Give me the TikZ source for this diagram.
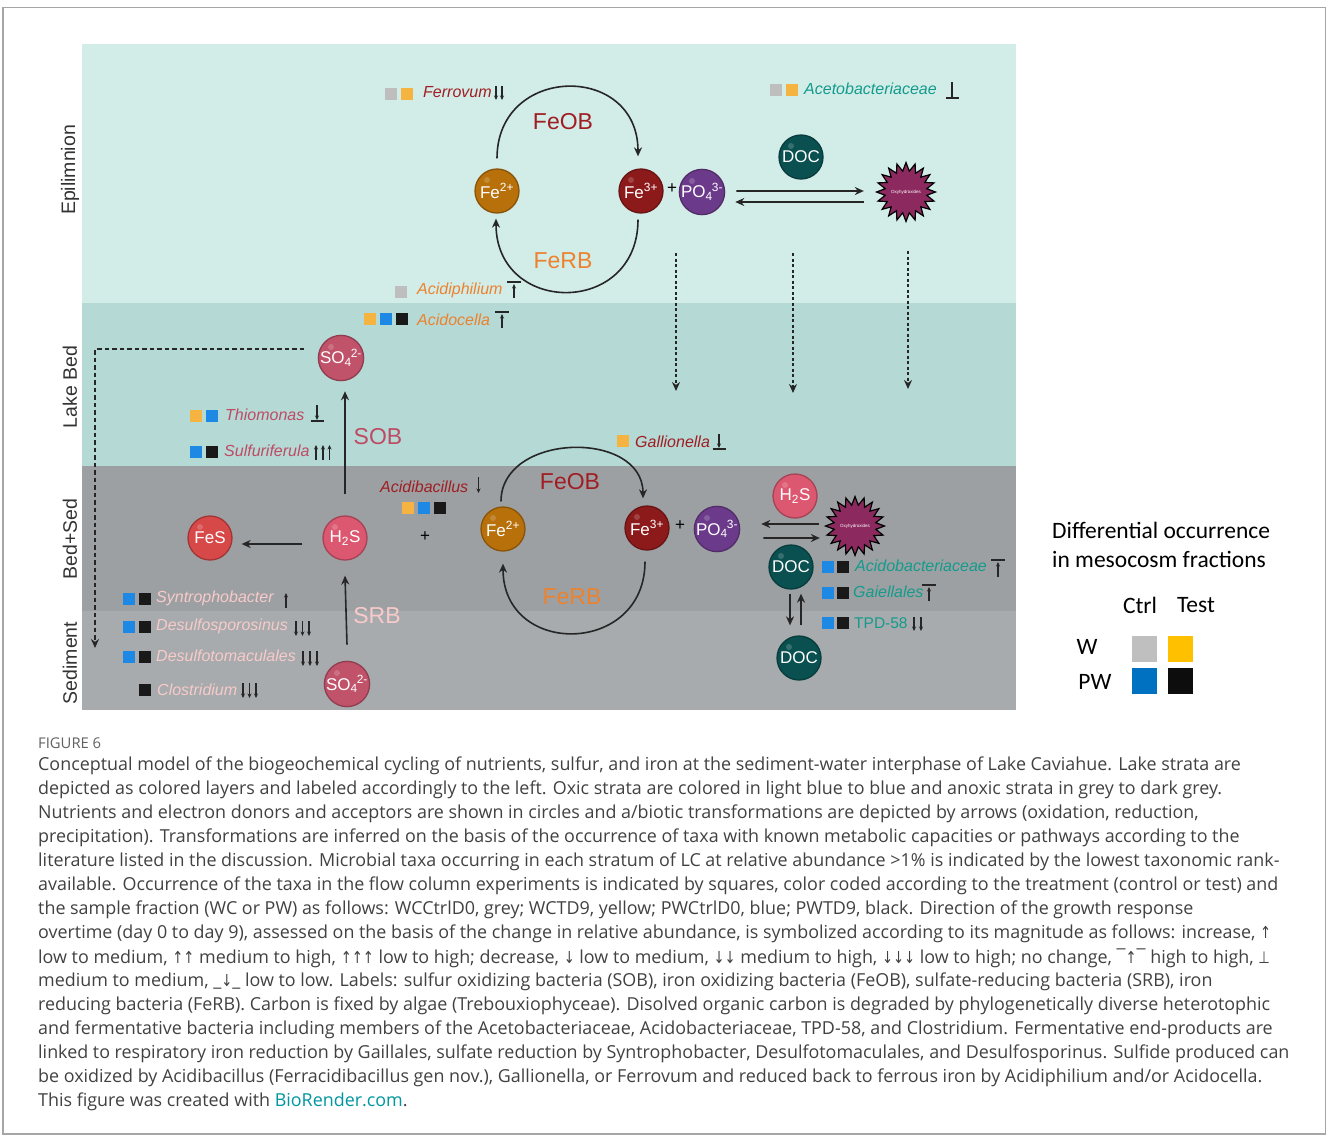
\documentclass[tikz,border=0pt]{standalone}
\usepackage{fontspec}
\usepackage{graphicx}
\setmainfont{Liberation Sans}
\newfontfamily\capfont{Open Sans}
\newfontfamily\legfont{Carlito}
\newfontfamily\symfont{DejaVu Sans}
\usetikzlibrary{shapes.geometric,arrows.meta,calc}
\newcommand\myfs[1]{\fontsize{#1}{#1}\selectfont}
\newcommand\sy[1]{\scalebox{0.8}[1]{\symfont\fontsize{16.5}{16.5}\selectfont #1}}
\definecolor{cEpi}{RGB}{210,236,232}
\definecolor{cBed}{RGB}{181,217,213}
\definecolor{cBS}{RGB}{156,160,163}
\definecolor{cSed}{RGB}{167,171,173}
\definecolor{cFeOB}{RGB}{160,30,35}
\definecolor{cFeRB}{RGB}{236,130,45}
\definecolor{cTeal}{RGB}{20,155,140}
\definecolor{cSOB}{RGB}{190,75,100}
\definecolor{cSRB}{RGB}{248,202,202}
\definecolor{qGrey}{RGB}{190,190,190}
\definecolor{qOr}{RGB}{245,180,65}
\definecolor{qBl}{RGB}{30,136,229}
\definecolor{qBk}{RGB}{25,25,25}
\definecolor{lGrey}{RGB}{191,191,191}
\definecolor{lYel}{RGB}{255,192,0}
\definecolor{lBl}{RGB}{0,112,192}
\definecolor{lBk}{RGB}{13,13,13}
\definecolor{kFeII}{RGB}{183,112,10}
\definecolor{kFeIII}{RGB}{140,26,26}
\definecolor{kPO}{RGB}{108,58,138}
\definecolor{kDOC}{RGB}{10,80,80}
\definecolor{kSO}{RGB}{192,82,106}
\definecolor{kHS}{RGB}{220,88,112}
\definecolor{kFeS}{RGB}{215,72,72}
\definecolor{kOx}{RGB}{140,42,95}
\definecolor{capc}{RGB}{65,65,65}
\definecolor{linkc}{RGB}{0,150,160}
\begin{document}
\begin{tikzpicture}[x=1pt,y=-1pt,
  ball/.style={circle,minimum size=44pt,inner sep=0pt,text=white,font=\myfs{17},line width=1.3pt,
    path picture={\fill[white,opacity=0.18] ($(path picture bounding box.center)+(-10,-11)$) circle (3pt);}},
  sq/.style={rectangle,minimum size=12pt,inner sep=0pt},
  lsq/.style={rectangle,minimum width=25pt,minimum height=26pt,inner sep=0pt},
  spec/.style={anchor=west,inner sep=0pt,font=\itshape\myfs{16}},
  lay/.style={rotate=90,inner sep=0pt,font=\myfs{19.5},text=black!80},
  big/.style={inner sep=0pt,font=\myfs{23}},
  arr/.style={line width=1.6pt,draw=black!85,-{Stealth[length=9pt,width=8pt]}},
  dotarr/.style={line width=1.6pt,draw=black!85,dash pattern=on 3pt off 2.5pt,-{Stealth[length=9pt,width=8pt]}},
  sym/.style={line width=1.1pt,draw=black!85,-{Stealth[length=4.5pt,width=4pt]}},
  bar/.style={line width=1.1pt,draw=black!85},
  oxy/.style={star,star points=20,star point ratio=1.4,minimum size=56pt,inner sep=0pt,fill=kOx,draw=black,line width=1.2pt,text=white,font=\myfs{4.5}},
  capl/.style={anchor=west,inner sep=0pt,font=\capfont\myfs{17.9},text=capc},
  leg/.style={inner sep=0pt,font=\legfont\myfs{23.5},text=black}
]
\useasboundingbox (0,0) rectangle (1327,1135);
% frame
\draw[draw=black!35,line width=1.5pt] (3,7.5) rectangle (1325.5,1134);
% layers
\fill[cEpi] (82,44) rectangle (1016,303);
\fill[cBed] (82,303) rectangle (1016,466);
\fill[cBS] (82,466) rectangle (1016,611);
\fill[cSed] (82,611) rectangle (1016,710);
\node[lay] (lEpi) at (70,170) {Epilimnion};
\node[lay] (lBed) at (70,387) {Lake Bed};
\node[lay] (lBS) at (70,539) {Bed+Sed};
\node[lay] (lSed) at (70,663) {Sediment};

% ===== Epilimnion =====
\node[ball,fill=kFeII,draw=kFeII!75!black] (fe2a) at (497,191) {Fe\textsuperscript{2+}};
\node[ball,fill=kFeIII,draw=kFeIII!75!black] (fe3a) at (641,191) {Fe\textsuperscript{3+}};
\node[inner sep=0pt,font=\myfs{17}] (plA) at (672,189) {+};
\node[ball,fill=kPO,draw=kPO!75!black] (po4a) at (702,192) {PO\textsubscript{4}\kern-0.05em\textsuperscript{3-}};
\node[ball,fill=kDOC,draw=kDOC!75!black] (doc1) at (801,157) {DOC};
\node[oxy] (ox1) at (906,192) {Oxyhydroxides};
\draw[arr] ($(fe2a.north)+(0,-10)$) .. controls +(0,-94) and +(0,-94) .. ($(fe3a.north)+(-3,-12)$);
\draw[arr] ($(fe3a.south)+(-3,6)$) .. controls +(0,97) and +(0,97) .. ($(fe2a.south)+(-1,5)$);
\node[big,text=cFeOB] (feob1) at (563,122) {FeOB};
\node[big,text=cFeRB] (ferb1) at (563,261) {FeRB};
\draw[arr] ([xshift=11pt,yshift=1pt]po4a.east) -- ([xshift=-11pt,yshift=1pt]ox1.west);
\draw[arr] ([xshift=-11pt,yshift=-10pt]ox1.west) -- ([xshift=10pt,yshift=-10pt]po4a.east);
% dotted down arrows
\coordinate (d1s) at (676,253); \coordinate (d1e) at (676,391);
\coordinate (d2s) at (793,253); \coordinate (d2e) at (793,393);
\coordinate (d3s) at (908,251); \coordinate (d3e) at (908,389);
\draw[dotarr] (d1s) -- (d1e);
\draw[dotarr] (d2s) -- (d2e);
\draw[dotarr] (d3s) -- (d3e);
% Ferrovum
\node[sq,fill=qGrey] (fv1) at (391,94) {};
\node[sq,fill=qOr] (fv2) at (407,94) {};
\node[spec,text=cFeOB] (fvt) at (423,92) {Ferrovum};
\draw[sym] (496,86) -- (496,100); \draw[sym] (502,86) -- (502,100);
% Acetobacteriaceae
\node[sq,fill=qGrey] (ac1) at (776,90) {};
\node[sq,fill=qOr] (ac2) at (792,90) {};
\node[spec,text=cTeal] (act) at (804,89) {Acetobacteriaceae};
\draw[bar] (952,82) -- (952,98); \draw[bar] (945.5,98) -- (959,98);
% Acidiphilium
\node[sq,fill=qGrey] (ap1) at (401,292) {};
\node[spec,text=cFeRB] (apt) at (417,290) {Acidiphilium};
\draw[bar] (507,282) -- (521,282); \draw[sym] (514,298) -- (514,284);

% ===== Lake bed =====
\node[sq,fill=qOr] (ao1) at (370,319) {};
\node[sq,fill=qBl] (ao2) at (386,319) {};
\node[sq,fill=qBk] (ao3) at (402,319) {};
\node[spec,text=cFeRB] (aot) at (417,320) {Acidocella};
\draw[bar] (495,312) -- (509,312); \draw[sym] (502,328) -- (502,314);
\node[ball,fill=kSO,draw=kSO!75!black] (so4a) at (341,358) {SO\textsubscript{4}\kern-0.05em\textsuperscript{2-}};
\coordinate (dl1) at (304,349); \coordinate (dl2) at (95,349); \coordinate (dl3) at (95,648);
\draw[line width=1.6pt,draw=black!85,dash pattern=on 4.5pt off 3pt,-{Stealth[length=9pt,width=8pt]}] (dl1) -- (dl2) -- (dl3);
\node[sq,fill=qOr] (tm1) at (196,416) {};
\node[sq,fill=qBl] (tm2) at (212,416) {};
\node[spec,text=cSOB] (tmt) at (225,415) {Thiomonas};
\draw[sym] (317,405) -- (317,420); \draw[bar] (310.5,421) -- (324,421);
\node[sq,fill=qBl] (sf1) at (196,452) {};
\node[sq,fill=qBk] (sf2) at (212,452) {};
\node[spec,text=cSOB] (sft) at (224,451) {Sulfuriferula};
\draw[sym] (316,460) -- (316,445); \draw[sym] (323,460) -- (323,445); \draw[sym] (329.5,460) -- (329.5,445);
\node[big,text=cSOB] (sob) at (378,437) {SOB};
\node[sq,fill=qOr] (gl1) at (623,441) {};
\node[spec,text=cFeOB] (glt) at (635,442) {Gallionella};
\draw[sym] (719,434) -- (719,448); \draw[bar] (712.5,449) -- (726,449);

% ===== Bed+Sed =====
\node[spec,text=cFeOB] (abt) at (380,487) {Acidibacillus};
\draw[sym] (478.5,477) -- (478.5,493);
\node[sq,fill=qOr] (ab1) at (408,508) {};
\node[sq,fill=qBl] (ab2) at (424,508) {};
\node[sq,fill=qBk] (ab3) at (440,508) {};
\node[inner sep=0pt,font=\myfs{17}] (plB) at (425,537) {+};
\node[ball,fill=kFeII,draw=kFeII!75!black] (fe2b) at (503,529) {Fe\textsuperscript{2+}};
\node[ball,fill=kFeIII,draw=kFeIII!75!black] (fe3b) at (647,528) {Fe\textsuperscript{3+}};
\node[inner sep=0pt,font=\myfs{17}] (plC) at (680,526) {+};
\node[ball,fill=kPO,draw=kPO!75!black] (po4b) at (717,529) {PO\textsubscript{4}\kern-0.05em\textsuperscript{3-}};
\draw[arr] ($(fe2b.north)+(-2,-5)$) .. controls +(0,-69) and +(0,-69) .. ($(fe3b.north)+(-4,-7)$);
\draw[arr] ($(fe3b.south)+(-2,11)$) .. controls +(0,94) and +(0,94) .. ($(fe2b.south)+(0,12)$);
\node[big,text=cFeOB] (feob2) at (570,482) {FeOB};
\node[big,text=cFeRB] (ferb2) at (572,597) {FeRB};
\node[ball,fill=kHS,draw=kHS!75!black] (h2sb) at (795,496) {H\textsubscript{2}S};
\node[oxy,minimum size=52pt] (ox2) at (855,526) {Oxyhydroxides};
\draw[arr] ([xshift=-5pt,yshift=2pt]ox2.west) -- ([xshift=21pt,yshift=5pt]po4b.east);
\draw[arr] ([xshift=23pt,yshift=-9pt]po4b.east) -- ([xshift=-4pt,yshift=-12pt]ox2.west);
\node[ball,fill=kDOC,draw=kDOC!75!black] (doc2) at (791,567) {DOC};
\node[ball,fill=kDOC,draw=kDOC!75!black] (doc3) at (799,658) {DOC};
\draw[arr] ([xshift=-1pt,yshift=-4pt]doc2.south) -- ([xshift=-9pt,yshift=10pt]doc3.north);
\draw[arr] ([xshift=2pt,yshift=10pt]doc3.north) -- ([xshift=10pt,yshift=-4pt]doc2.south);
\node[sq,fill=qBl] (adb1) at (828,567) {};
\node[sq,fill=qBk] (adb2) at (843,567) {};
\node[spec,text=cTeal] (adbt) at (855,566) {Acidobacteriaceae};
\draw[bar] (991,560) -- (1005,560); \draw[sym] (998,577) -- (998,562);
\node[sq,fill=qBl] (ga1) at (828,593) {};
\node[sq,fill=qBk] (ga2) at (843,593) {};
\node[spec,text=cTeal] (gat) at (853,592) {Gaiellales};
\draw[bar] (922,585) -- (936,585); \draw[sym] (929,601) -- (929,587);
\node[sq,fill=qBl] (tp1) at (828,623) {};
\node[sq,fill=qBk] (tp2) at (843,623) {};
\node[spec,font=\myfs{15.5},text=cTeal] (tpt) at (854,623) {TPD-58};
\draw[sym] (914,617) -- (914,631); \draw[sym] (921,617) -- (921,631);

\node[ball,fill=kHS,draw=kHS!75!black] (h2sa) at (345,538) {H\textsubscript{2}S};
\node[ball,fill=kFeS,draw=kFeS!75!black] (fes) at (210,538) {FeS};
\draw[arr] ([xshift=-20pt,yshift=-6pt]h2sa.west) -- ([xshift=9pt,yshift=-6pt]fes.east);
\draw[arr] ($(h2sa.north)+(0,-21)$) -- ($(so4a.south)+(4,10)$);
\node[ball,fill=kSO,draw=kSO!75!black] (so4b) at (347,684) {SO\textsubscript{4}\kern-0.05em\textsuperscript{2-}};
\draw[arr] ([yshift=16pt]so4b.north) -- ([yshift=-15pt]h2sa.south);
\node[big,text=cSRB] (srb) at (377,616) {SRB};

\node[sq,fill=qBl] (sy1) at (128.5,599) {};
\node[sq,fill=qBk] (sy2) at (144.5,599) {};
\node[spec,text=cSRB] (syt) at (156,598) {Syntrophobacter};
\draw[sym] (286,608) -- (286,593);
\node[sq,fill=qBl] (ds1) at (128.5,627) {};
\node[sq,fill=qBk] (ds2) at (144.5,627) {};
\node[spec,text=cSRB] (dst) at (156,626) {Desulfosporosinus};
\draw[sym] (296,621) -- (296,636); \draw[sym] (302.5,621) -- (302.5,636); \draw[sym] (309,621) -- (309,636);
\node[sq,fill=qBl] (dm1) at (128.5,657) {};
\node[sq,fill=qBk] (dm2) at (144.5,657) {};
\node[spec,text=cSRB] (dmt) at (156,656) {Desulfotomaculales};
\draw[sym] (303,651) -- (303,666); \draw[sym] (310,651) -- (310,666); \draw[sym] (317,651) -- (317,666);
\node[sq,fill=qBk] (cl1) at (144.5,690) {};
\node[spec,text=cSRB] (clt) at (157,690) {Clostridium};
\draw[sym] (243,683) -- (243,698); \draw[sym] (249.5,683) -- (249.5,698); \draw[sym] (256,683) -- (256,698);

% ===== Legend =====
\node[leg,anchor=west] (lg1) at (1052,530) {Differential occurrence};
\node[leg,anchor=west] (lg2) at (1052,559) {in mesocosm fractions};
\node[leg] (lgc) at (1140,605) {Ctrl};
\node[leg] (lgt) at (1196,605) {Test};
\node[leg] (lgw) at (1087,647) {W};
\node[leg] (lgp) at (1095,682) {PW};
\node[lsq,fill=lGrey] (q1) at (1144,649) {};
\node[lsq,fill=lYel] (q2) at (1180,649) {};
\node[lsq,fill=lBl] (q3) at (1144,681) {};
\node[lsq,fill=lBk] (q4) at (1180,681) {};

% ===== Caption =====
\node[anchor=west,inner sep=0pt,font=\capfont\myfs{14.8},text=black!62] (fig) at (38,743) {FIGURE 6};
\node[capl] (c1) at (38,766) {Conceptual model of the biogeochemical cycling of nutrients, sulfur, and iron at the sediment-water interphase of Lake Caviahue. Lake strata are};
\node[capl] (c2) at (38,790) {depicted as colored layers and labeled accordingly to the left. Oxic strata are colored in light blue to blue and anoxic strata in grey to dark grey.};
\node[capl] (c3) at (38,814) {Nutrients and electron donors and acceptors are shown in circles and a/biotic transformations are depicted by arrows (oxidation, reduction,};
\node[capl] (c4) at (38,838) {precipitation). Transformations are inferred on the basis of the occurrence of taxa with known metabolic capacities or pathways according to the};
\node[capl] (c5) at (38,862) {literature listed in the discussion. Microbial taxa occurring in each stratum of LC at relative abundance >1\% is indicated by the lowest taxonomic rank-};
\node[capl] (c6) at (38,886) {available. Occurrence of the taxa in the flow column experiments is indicated by squares, color coded according to the treatment (control or test) and};
\node[capl] (c7) at (38,910) {the sample fraction (WC or PW) as follows: WCCtrlD0, grey; WCTD9, yellow; PWCtrlD0, blue; PWTD9, black. Direction of the growth response};
\node[capl] (c8) at (38,934) {overtime (day 0 to day 9), assessed on the basis of the change in relative abundance, is symbolized according to its magnitude as follows: increase, \sy{↑}};
\node[capl] (c9) at (38,958) {low to medium, \sy{↑↑} medium to high, \sy{↑↑↑} low to high; decrease, \sy{↓} low to medium, \sy{↓↓} medium to high, \sy{↓↓↓} low to high; no change, ¯\sy{↑}¯ high to high, \sy{⊥}};
\node[capl] (c10) at (38,982) {medium to medium, \_\sy{↓}\_ low to low. Labels: sulfur oxidizing bacteria (SOB), iron oxidizing bacteria (FeOB), sulfate-reducing bacteria (SRB), iron};
\node[capl] (c11) at (38,1006) {reducing bacteria (FeRB). Carbon is fixed by algae (Trebouxiophyceae). Disolved organic carbon is degraded by phylogenetically diverse heterotophic};
\node[capl] (c12) at (38,1030) {and fermentative bacteria including members of the Acetobacteriaceae, Acidobacteriaceae, TPD-58, and Clostridium. Fermentative end-products are};
\node[capl] (c13) at (38,1054) {linked to respiratory iron reduction by Gaillales, sulfate reduction by Syntrophobacter, Desulfotomaculales, and Desulfosporinus. Sulfide produced can};
\node[capl] (c14) at (38,1078) {be oxidized by Acidibacillus (Ferracidibacillus gen nov.), Gallionella, or Ferrovum and reduced back to ferrous iron by Acidiphilium and/or Acidocella.};
\node[capl] (c15) at (38,1102) {This figure was created with \textcolor{linkc}{BioRender.com}.};
\end{tikzpicture}
\end{document}
